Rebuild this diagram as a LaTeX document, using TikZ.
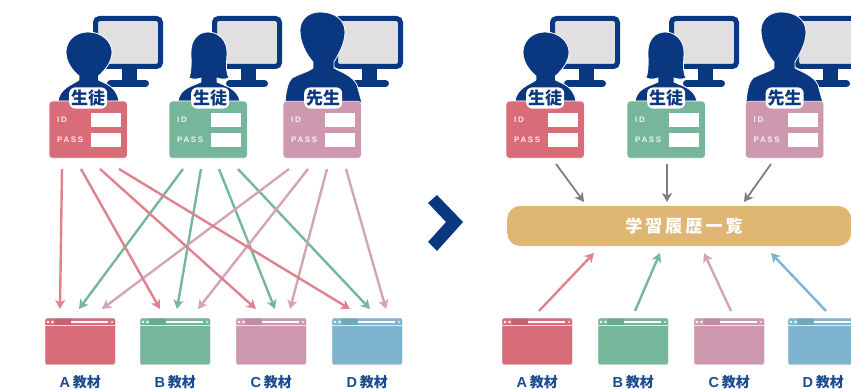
\documentclass[tikz,border=0pt]{standalone}
\usepackage{xcolor}
\usepackage{fontspec}
\usepackage{tikz}
\usetikzlibrary{arrows.meta,calc,positioning}
\setmainfont{Liberation Sans}
\newfontfamily\cjk{Noto Sans CJK JP}
\newfontfamily\cjkwide[LetterSpace=18]{Noto Sans CJK JP}
\newfontfamily\grtwide[LetterSpace=20]{Liberation Sans}
\definecolor{grtnavy}{HTML}{0A3880}
\definecolor{grtink}{HTML}{1C4A8E}
\definecolor{grtscreen}{HTML}{E0E0E0}
\definecolor{grtred}{HTML}{D96C79}
\definecolor{grtgreen}{HTML}{76B69A}
\definecolor{grtpink}{HTML}{CE99AF}
\definecolor{grtblue}{HTML}{7FB4D0}
\definecolor{grtgold}{HTML}{DFB674}
\definecolor{grtgray}{HTML}{7F7F7F}
\newcommand{\grtmonitor}[1]{%
  \begin{scope}[shift={(#1,0)}]
    \draw[grtnavy, fill=grtscreen, line width=5pt, rounded corners=4pt] (2.5,18.5) rectangle (67.5,66.5);
    \fill[grtnavy] (29,69) rectangle (44,81);
    \draw[grtnavy, line width=7pt, line cap=round] (17.5,83.5) -- (52.5,83.5);
  \end{scope}}
\newcommand{\grtmale}[1]{%
  \path[shift={(#1,0)}, persona] (39,32) .. controls (53,32) and (63,42) .. (63,52) .. controls (63,62) and (56,70) .. (49.5,76) -- (49.5,80) .. controls (57,84) and (67,86) .. (70,101) -- (9,101) .. controls (11,88) and (23,85) .. (30,80) -- (30,76) .. controls (23,70) and (17,62) .. (17,52) .. controls (17,42) and (25,32) .. (39,32) -- cycle;}
\newcommand{\grtfemale}[1]{%
  \path[shift={(#1,0)}, persona] (39,32) .. controls (50,32) and (58,41) .. (58,52) .. controls (58,62) and (56,70) .. (60,78) .. controls (55,80) and (51,79) .. (48,78) -- (48,82) .. controls (56,86) and (68,88) .. (71,101) -- (9,101) .. controls (11,88) and (24,86) .. (32,82) -- (32,78) .. controls (29,79) and (25,80) .. (20,78) .. controls (23,70) and (22,60) .. (22,52) .. controls (22,41) and (28,32) .. (39,32) -- cycle;}
\newcommand{\grtteacher}[1]{%
  \path[shift={(#1,0)}, persona] (37,12) .. controls (52,12) and (62,20) .. (62,32) .. controls (62,44) and (55,55) .. (51,62) -- (51,68) .. controls (58,72) and (70,76) .. (74,85) -- (79,103) -- (2,103) .. controls (3,90) and (5,82) .. (9,78) .. controls (16,74) and (25,72) .. (30,68) -- (30,62) .. controls (24,55) and (17,44) .. (17,30) .. controls (17,20) and (25,12) .. (37,12) -- cycle;}
\newcommand{\grtcard}[5]{%
  \node[cardbox, fill=#3, anchor=north west] (#1) at (#2,101) {};
  \node[fieldbox, anchor=north west] (#1id) at ([xshift=42pt,yshift=-12pt]#1.north west) {};
  \node[fieldbox, below=5pt of #1id] (#1pass) {};
  \node[cardtext, anchor=west] (#1idtext) at ([xshift=8pt]$(#1.north west)!(#1id.center)!(#1.south west)$) {ID};
  \node[cardtext, anchor=west] (#1passtext) at ([xshift=8pt]$(#1.north west)!(#1pass.center)!(#1.south west)$) {PASS};
  \node[badge] (#1badge) at ([xshift=#4,yshift=3pt]#1.north) {#5};}
\newcommand{\grtwindow}[4]{%
  \node[winbox, fill=#3, anchor=north west] (#1) at (#2,318) {};
  \fill[black, opacity=0.08] ([xshift=10pt]#1.north west) rectangle ([xshift=26pt,yshift=-7pt]#1.north west);
  \draw[white, opacity=0.75, line width=0.7pt] ([yshift=-7.5pt]#1.north west) -- ([yshift=-7.5pt]#1.north east);
  \draw[white, line width=1.4pt] ([xshift=26pt,yshift=-4pt]#1.north west) -- ([xshift=63pt,yshift=-4pt]#1.north west);
  \fill[white] ([xshift=3pt,yshift=-4pt]#1.north west) circle (1.3pt) ([xshift=7.5pt,yshift=-4pt]#1.north west) circle (1.3pt) ([xshift=67pt,yshift=-4pt]#1.north west) circle (1pt);
  \node[winlabel] (#1label) at ([yshift=-17.5pt]#1.south) {{\bfseries\fontsize{14.5}{15}\selectfont #4}\hspace{0.2em}\cjk 教材};}
\begin{document}
\begin{tikzpicture}[
    x=1pt, y=-1pt,
    persona/.style={fill=grtnavy, draw=white, line width=0.8pt},
    cardbox/.style={draw=white, line width=0.4pt, rounded corners=3pt, minimum width=78pt, minimum height=57pt, inner sep=0},
    fieldbox/.style={fill=white, minimum width=30pt, minimum height=14pt, inner sep=0},
    cardtext/.style={text=white, opacity=0.85, inner sep=0, font=\grtwide\bfseries\fontsize{8}{9}\selectfont},
    badge/.style={fill=white, rounded corners=6pt, text=grtnavy, inner xsep=2pt, inner ysep=2.5pt, font=\cjk\bfseries\fontsize{17}{18}\selectfont},
    winbox/.style={draw=white!70!gray, line width=0.3pt, rounded corners=1.5pt, minimum width=70pt, minimum height=46.5pt, inner sep=0},
    winlabel/.style={text=grtink, inner sep=0, font=\bfseries\fontsize{14}{15}\selectfont},
    link/.style={line width=2.4pt, -{Stealth[length=9pt,width=10pt,inset=2.4pt]}},
    hub/.style={fill=grtgold, rounded corners=13pt, minimum width=344pt, minimum height=40pt, anchor=west, inner sep=0}]
\clip (0,0) rectangle (851,390);

\grtmonitor{93}
\grtmonitor{212}
\grtmonitor{333}
\grtmonitor{550}
\grtmonitor{669}
\grtmonitor{794}
\grtmale{49}
\grtfemale{169}
\grtteacher{283}
\grtmale{506}
\grtfemale{626}
\grtteacher{744}

\grtcard{cardA}{49}{grtred}{0pt}{生徒}
\grtcard{cardB}{169}{grtgreen}{2pt}{生徒}
\grtcard{cardC}{283}{grtpink}{1pt}{先生}
\grtcard{cardD}{506}{grtred}{0pt}{生徒}
\grtcard{cardE}{627}{grtgreen}{0pt}{生徒}
\grtcard{cardF}{745.5}{grtpink}{0pt}{先生}

\grtwindow{winA}{45}{grtred}{A}
\grtwindow{winB}{140}{grtgreen}{B}
\grtwindow{winC}{236}{grtpink}{C}
\grtwindow{winD}{332}{grtblue}{D}
\grtwindow{winE}{502}{grtred}{A}
\grtwindow{winF}{598}{grtgreen}{B}
\grtwindow{winG}{694}{grtpink}{C}
\grtwindow{winH}{788}{grtblue}{D}

\foreach \a/\b [count=\i] in {183/79,201/177,219/275,238/370}{
  \coordinate (gs\i) at (\a,169);
  \coordinate (ge\i) at (\b,309);
  \draw[link, grtgreen] (gs\i) -- (ge\i);
}
\foreach \a/\b [count=\i] in {289/102,308/198,327/290,346/386}{
  \coordinate (ps\i) at (\a,169);
  \coordinate (pe\i) at (\b,309);
  \draw[link, grtpink!90] (ps\i) -- (pe\i);
}
\foreach \a/\b [count=\i] in {62/60,81/160,100/256,119/350}{
  \coordinate (rs\i) at (\a,169);
  \coordinate (re\i) at (\b,309);
  \draw[link, grtred!85] (rs\i) -- (re\i);
}

\fill[grtnavy] (428,203) -- (437,195) -- (463,222) -- (437,251) -- (428,242) -- (446,222) -- cycle;

\node[hub] (history) at (507,226) {};
\node[text=white, inner sep=0, font=\cjkwide\bfseries\fontsize{17}{18}\selectfont] (historytext) at (684,226.5) {学習履歴一覧};

\foreach \a/\b [count=\i] in {556/584,667/667,771/744}{
  \coordinate (ts\i) at (\a,164);
  \coordinate (te\i) at (\b,202);
  \draw[link, grtgray, line width=1.8pt] (ts\i) -- (te\i);
}
\coordinate (us1) at (539,311);
\coordinate (ue1) at (594,253);
\coordinate (us2) at (635,311);
\coordinate (ue2) at (660,253);
\coordinate (us3) at (731,311);
\coordinate (ue3) at (704,253);
\coordinate (us4) at (826,311);
\coordinate (ue4) at (771,253);
\draw[link, grtred!85] (us1) -- (ue1);
\draw[link, grtgreen] (us2) -- (ue2);
\draw[link, grtpink!90] (us3) -- (ue3);
\draw[link, grtblue] (us4) -- (ue4);
\end{tikzpicture}
\end{document}
